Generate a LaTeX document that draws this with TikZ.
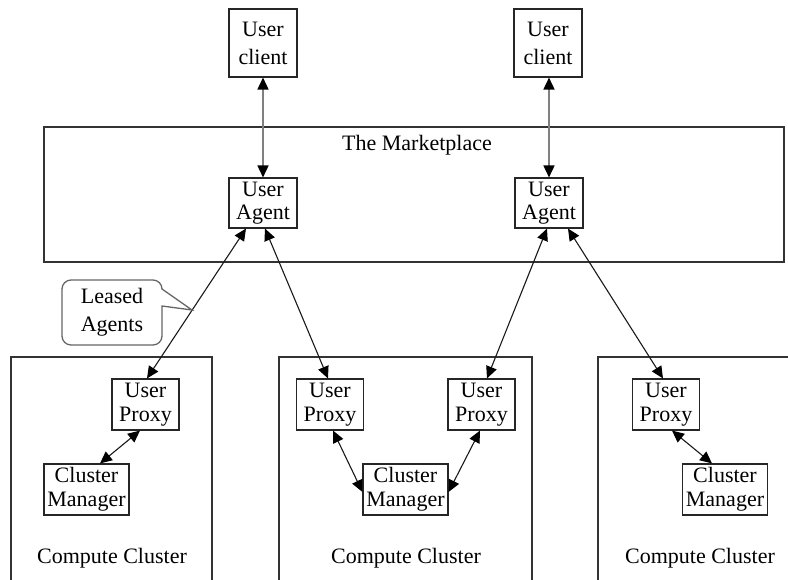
\documentclass[tikz,border=0pt]{standalone}
\usepackage{fontspec}
\setmainfont{Liberation Serif}
\usetikzlibrary{arrows.meta}
\begin{document}
\begin{tikzpicture}[x=1pt,y=-1pt,
  bigbox/.style={draw=black!80,line width=1.3pt},
  box/.style={draw=black!85,line width=1.1pt,inner sep=0pt,align=center,
    font=\fontsize{22}{24}\selectfont},
  clientbox/.style={box,minimum width=68pt,minimum height=68pt,font=\fontsize{22}{28}\selectfont},
  agentbox/.style={box,minimum width=68pt,minimum height=50pt,font=\fontsize{22}{23}\selectfont},
  proxybox/.style={box,minimum width=67pt,minimum height=51pt},
  cmbox/.style={box,minimum width=85pt,minimum height=51pt},
  lbl/.style={inner sep=0pt,font=\fontsize{22}{28}\selectfont,align=center},
  arr/.style={{Triangle[length=12pt,width=11pt,color=black]}-{Triangle[length=12pt,width=11pt,color=black]},line width=1.1pt,draw=black!90},
  garr/.style={arr,draw=black!50,line width=1.6pt},
  callout/.style={draw=black!60,line width=1.3pt}
]
\useasboundingbox (0,0) rectangle (788,579);
\clip (0,0) rectangle (788,579);

% containers
\draw[bigbox] (44,127) rectangle (784,262);
\node[lbl,anchor=base] (mtitle) at (417,150) {The Marketplace};
\draw[bigbox] (11,357) rectangle (212,600);
\draw[bigbox] (279,357) rectangle (532,600);
\draw[bigbox] (598,357) rectangle (810,600);
\node[lbl,anchor=base] (cc1) at (112,563) {Compute Cluster};
\node[lbl,anchor=base] (cc2) at (406,563) {Compute Cluster};
\node[lbl,anchor=base] (cc3) at (700,563) {Compute Cluster};

% nodes
\node[clientbox] (client1) at (263,43) {User\\client};
\node[clientbox] (client2) at (548,43) {User\\client};
\node[agentbox] (agent1) at (263,203) {User\\Agent};
\node[agentbox] (agent2) at (549,203) {User\\Agent};
\node[proxybox] (up1) at (145.5,404.5) {User\\Proxy};
\node[proxybox] (up2a) at (330,404.5) {User\\Proxy};
\node[proxybox] (up2b) at (481.5,404.5) {User\\Proxy};
\node[proxybox] (up3) at (666,404.5) {User\\Proxy};
\node[cmbox] (cm1) at (86.5,489.5) {Cluster\\Manager};
\node[cmbox] (cm2) at (405.5,489.5) {Cluster\\Manager};
\node[cmbox] (cm3) at (725,489.5) {Cluster\\Manager};

% connectors
\draw[garr] (client1.south) -- (agent1.north);
\draw[garr] ([xshift=1pt]client2.south) -- ([xshift=0pt]agent2.north);
\draw[arr] ([xshift=-17pt]agent1.south) -- ([xshift=1.5pt]up1.north);
\draw[arr] ([xshift=2pt]agent1.south) -- ([xshift=-2pt]up2a.north);
\draw[arr] ([xshift=-2pt]agent2.south) -- ([xshift=5.5pt]up2b.north);
\draw[arr] ([xshift=19pt]agent2.south) -- ([xshift=-3pt]up3.north);
\draw[arr] ([xshift=-5.5pt]up1.south) -- ([xshift=13.5pt]cm1.north);
\draw[arr] ([xshift=3pt]up2a.south) -- ([yshift=-2.5pt]cm2.west);
\draw[arr] ([xshift=-1.5pt]up2b.south) -- ([yshift=-2.5pt]cm2.east);
\draw[arr] ([xshift=6pt]up3.south) -- ([xshift=-13pt]cm3.north);

% callout
\draw[callout] (112,280) [rounded corners=9pt] -- (162,280) [sharp corners] -- (162,289) -- (192,310) -- (162,306) [rounded corners=9pt] -- (162,345) -- (62,345) -- (62,280) -- cycle;
\node[lbl] (leased) at (112,312) {Leased\\Agents};
\end{tikzpicture}
\end{document}
